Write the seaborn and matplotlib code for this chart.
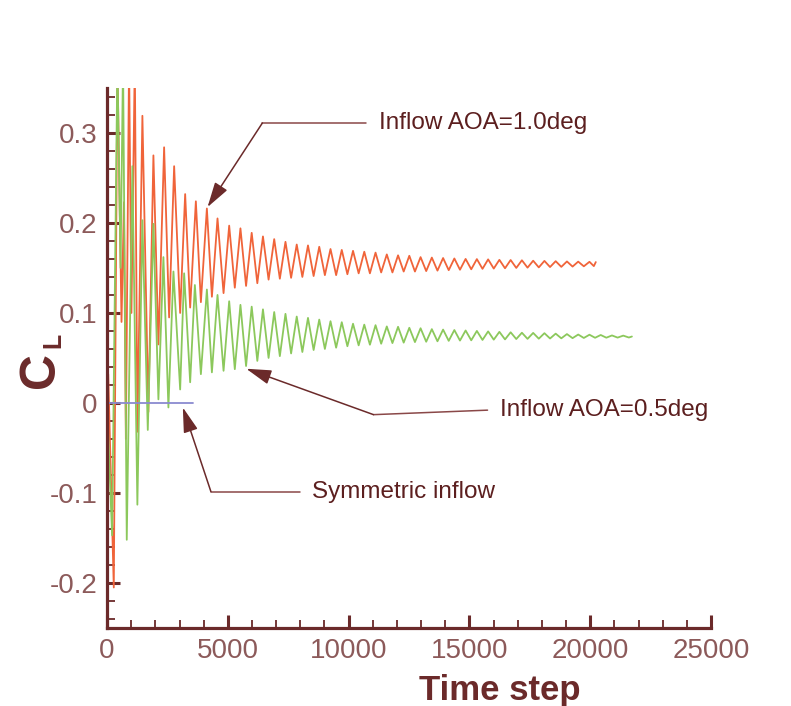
import numpy as np
import pandas as pd
import matplotlib
matplotlib.use("Agg")
import matplotlib.pyplot as plt
import seaborn as sns

# Lift coefficient histories (time step, C_L).
# Early transient: irregular, listed point by point.
red_early_steps = [0, 50, 280, 430, 600, 700, 780, 912, 1010, 1150, 1260, 1464, 1712, 1920,
                   2127, 2363, 2570, 2778, 3027, 3234, 3441, 3677, 3885, 4133, 4341, 4573]
red_early_cl = [0.0, 0.032, -0.205, 0.38, 0.09, 0.223, -0.04, 0.38, 0.10, 0.38, -0.032, 0.319,
                -0.01, 0.275, 0.065, 0.284, 0.095, 0.263, 0.100, 0.232, 0.106, 0.224, 0.112,
                0.216, 0.118, 0.205]

green_early_steps = [0, 210, 430, 560, 663, 817, 1049, 1256, 1464, 1687, 1920, 2127, 2334,
                     2541, 2749, 3027, 3192, 3441, 3636, 3885, 4133, 4341, 4573]
green_early_cl = [0.0, -0.147, 0.38, 0.15, 0.38, -0.152, 0.263, -0.113, 0.203, -0.03, 0.199,
                  0.004, 0.162, -0.005, 0.146, 0.015, 0.144, 0.023, 0.131, 0.032, 0.126, 0.034,
                  0.120]

# After ~4800 steps the oscillation is regular: one trough / peak every half period
regular_start = 4823
half_period = 233

red_troughs = [0.122, 0.128, 0.130, 0.133, 0.137, 0.138, 0.139, 0.140, 0.141, 0.142, 0.142,
               0.143, 0.144, 0.144, 0.145, 0.145, 0.146, 0.146, 0.1465, 0.147, 0.1475, 0.148,
               0.1485, 0.149, 0.1493, 0.1496, 0.150, 0.1503, 0.1506, 0.151, 0.1512, 0.1515,
               0.1518]
red_peaks = [0.197, 0.194, 0.189, 0.185, 0.182, 0.179, 0.176, 0.175, 0.1735, 0.171, 0.170,
             0.169, 0.168, 0.167, 0.165, 0.164, 0.1635, 0.162, 0.1615, 0.161, 0.1605, 0.160,
             0.1598, 0.1595, 0.159, 0.1588, 0.1585, 0.158, 0.1578, 0.1575, 0.1572, 0.157,
             0.1568]
red_tail_steps = [20150, 20230]
red_tail_cl = [0.152, 0.1565]

green_troughs = [0.0357, 0.0375, 0.041, 0.0467, 0.050, 0.052, 0.055, 0.0566, 0.0588, 0.060,
                 0.0614, 0.063, 0.064, 0.0647, 0.0658, 0.0665, 0.067, 0.0676, 0.068, 0.0685,
                 0.069, 0.0693, 0.0696, 0.070, 0.0703, 0.0706, 0.071, 0.0712, 0.0714, 0.0716,
                 0.0718, 0.072, 0.0722, 0.0724, 0.0725, 0.0726, 0.0727]
green_peaks = [0.113, 0.109, 0.107, 0.104, 0.101, 0.099, 0.096, 0.0945, 0.0926, 0.0908,
               0.0897, 0.088, 0.087, 0.0864, 0.085, 0.0846, 0.0835, 0.083, 0.082, 0.0815,
               0.081, 0.0805, 0.080, 0.0795, 0.079, 0.0785, 0.078, 0.0778, 0.0775, 0.077,
               0.0765, 0.076, 0.0758, 0.0755, 0.075, 0.0748]
green_tail_steps = [21725]
green_tail_cl = [0.0738]

sym_steps = [0, 3550]
sym_cl = [0.0, 0.0]

x_ticks = [0, 5000, 10000, 15000, 20000, 25000]
y_ticks = [-0.2, -0.1, 0, 0.1, 0.2, 0.3]
y_tick_labels = ["-0.2", "-0.1", "0", "0.1", "0.2", "0.3"]


def build_series(early_steps, early_cl, troughs, peaks, tail_steps, tail_cl):
    reg_cl = []
    for i in range(len(troughs)):
        reg_cl.append(troughs[i])
        if i < len(peaks):
            reg_cl.append(peaks[i])
    reg_steps = [regular_start + half_period * k for k in range(len(reg_cl))]
    return pd.DataFrame({"step": early_steps + reg_steps + tail_steps,
                         "cl": early_cl + reg_cl + tail_cl})


red_df = build_series(red_early_steps, red_early_cl, red_troughs, red_peaks,
                      red_tail_steps, red_tail_cl)
green_df = build_series(green_early_steps, green_early_cl, green_troughs, green_peaks,
                        green_tail_steps, green_tail_cl)
sym_df = pd.DataFrame({"step": sym_steps, "cl": sym_cl})

sns.set_theme(style="ticks")
plt.rcParams["font.family"] = ["Liberation Sans", "DejaVu Sans"]

axis_col = "#6b2a2a"
tick_col = "#8c5a5a"
note_col = "#5c1f1f"

fig = plt.figure(figsize=(7.91, 7.06), dpi=100)
ax = fig.add_axes([0.1353, 0.1105, 0.7636, 0.765])

sns.lineplot(data=red_df, x="step", y="cl", sort=False, estimator=None,
             color="#f0643a", lw=1.3, ax=ax)
sns.lineplot(data=green_df, x="step", y="cl", sort=False, estimator=None,
             color="#8cc85c", lw=1.3, ax=ax)
sns.lineplot(data=sym_df, x="step", y="cl", sort=False, estimator=None,
             color="#8a8ad0", lw=1.3, ax=ax)

ax.set_xlim(0, 25000)
ax.set_ylim(-0.25, 0.35)
ax.set_xticks(x_ticks)
ax.set_xticks(np.arange(0, 25001, 1000), minor=True)
ax.set_yticks(y_ticks)
ax.set_yticklabels(y_tick_labels)
ax.set_yticks(np.arange(-0.24, 0.35, 0.02), minor=True)

for side in ["top", "right"]:
    ax.spines[side].set_visible(False)
for side in ["left", "bottom"]:
    ax.spines[side].set_color(axis_col)
    ax.spines[side].set_linewidth(2.3)

ax.tick_params(which="major", direction="in", length=9.5, width=2.2, color=axis_col,
               labelcolor=tick_col, labelsize=20, pad=7)
ax.tick_params(which="minor", direction="in", length=5.5, width=1.3, color=axis_col)

ax.set_xlabel("Time step", fontsize=25, fontweight="bold", color=axis_col)
ax.xaxis.set_label_coords(0.65, -0.085)
ax.set_ylabel("")
# C_L written as two pieces, rotated like the reference
ax.text(-0.11, 0.478, "C", transform=ax.transAxes, rotation=90, fontsize=36,
        fontweight="bold", color=axis_col, ha="center", va="center")
ax.text(-0.088, 0.532, "L", transform=ax.transAxes, rotation=90, fontsize=18,
        fontweight="bold", color=axis_col, ha="center", va="center")


def callout(text_xy, corner, tip, text, end):
    ax.plot([end[0], corner[0]], [end[1], corner[1]], color="#8a4848", lw=1.1)
    ax.annotate("", xy=tip, xytext=corner,
                arrowprops=dict(arrowstyle="-|>,head_length=1.1,head_width=0.32",
                                mutation_scale=14, color="#6b2a2a", lw=1.1,
                                shrinkA=0, shrinkB=0))
    ax.text(text_xy[0], text_xy[1], text, fontsize=17.5, color=note_col,
            ha="left", va="center")


callout((11250, 0.311), (6430, 0.311), (4160, 0.2176), "Inflow AOA=1.0deg", (10700, 0.311))
callout((16250, -0.008), (11030, -0.013), (5763, 0.038), "Inflow AOA=0.5deg", (15750, -0.008))
callout((8500, -0.0985), (4300, -0.0985), (3138, -0.005), "Symmetric inflow", (8000, -0.0985))

fig.savefig("out.png", dpi=100, facecolor="white")
